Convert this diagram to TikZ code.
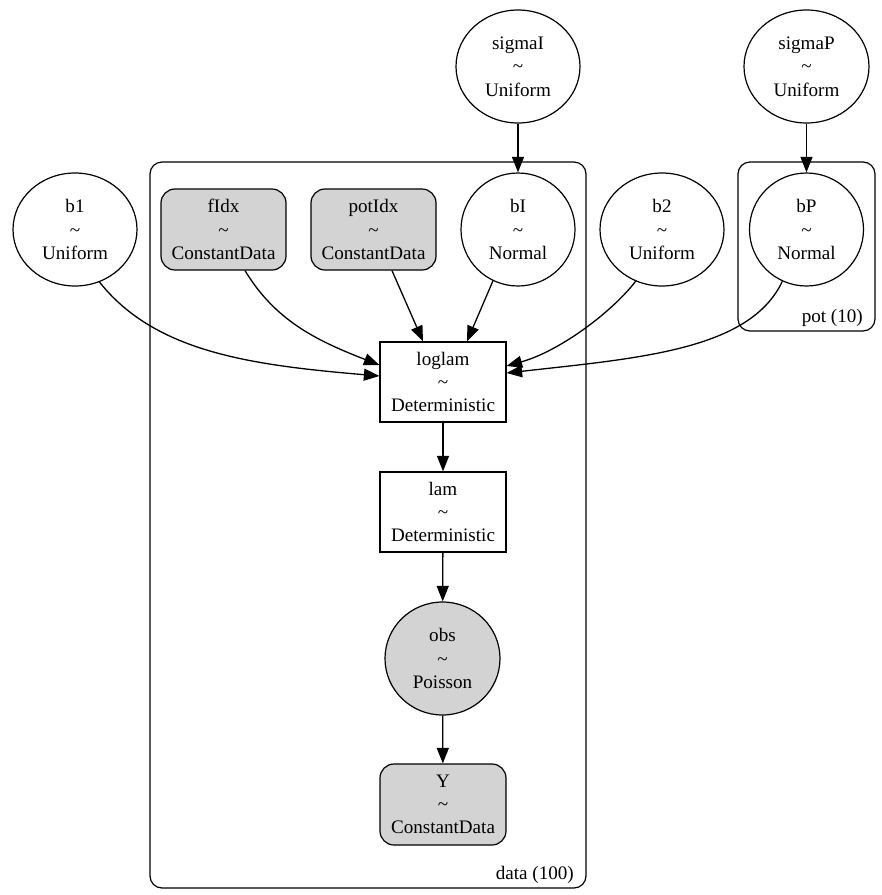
\documentclass[tikz,border=0pt]{standalone}
\usepackage{fontspec}
\setmainfont{Liberation Serif}
\usetikzlibrary{shapes.geometric,arrows.meta}
\definecolor{lightgrey}{HTML}{D3D3D3}
\begin{document}
\begin{tikzpicture}[x=1pt,y=-1pt,
  lbl/.style={font=\fontsize{19.1}{23.3}\selectfont, align=center},
  base/.style={draw, line width=1.2pt, inner sep=0pt, lbl},
  rv/.style={base, ellipse, minimum width=124pt, minimum height=113pt},
  det/.style={base, rectangle, minimum width=126pt, minimum height=80pt},
  cdata/.style={base, rectangle, rounded corners=14pt, fill=lightgrey, minimum width=125pt, minimum height=81pt},
  plate/.style={draw, line width=1.2pt, rounded corners=12pt},
  edge/.style={draw, line width=1.3pt, -{Triangle[length=15.5pt,width=12pt]}}
]
\useasboundingbox[fill=white] (0,0) rectangle (882,895);

% plates
\draw[plate] (150,162) rectangle (586,888);
\draw[plate] (738,162) rectangle (875,331);
\node[lbl, anchor=base east, inner sep=0pt] (datalbl) at (574,879) {data (100)};
\node[lbl, anchor=base east, inner sep=0pt] (potlbl) at (863,322) {pot (10)};

% nodes
\node[rv] (sigmaI) at (518,66.5) {sigmaI\\\textasciitilde\\Uniform};
\node[rv, minimum width=125pt] (sigmaP) at (806.5,66.5) {sigmaP\\\textasciitilde\\Uniform};
\node[rv] (b1) at (75,229.5) {b1\\\textasciitilde\\Uniform};
\node[cdata] (fIdx) at (223.5,229.5) {fIdx\\\textasciitilde\\ConstantData};
\node[cdata] (potIdx) at (373.5,229.5) {potIdx\\\textasciitilde\\ConstantData};
\node[rv, minimum width=114pt] (bI) at (518,229.5) {bI\\\textasciitilde\\Normal};
\node[rv] (b2) at (662,229.5) {b2\\\textasciitilde\\Uniform};
\node[rv, minimum width=114pt] (bP) at (806.5,229.5) {bP\\\textasciitilde\\Normal};
\node[det] (loglam) at (443,382) {loglam\\\textasciitilde\\Deterministic};
\node[det] (lam) at (443,512) {lam\\\textasciitilde\\Deterministic};
\node[rv, fill=lightgrey, minimum width=115pt] (obs) at (442.5,658.5) {obs\\\textasciitilde\\Poisson};
\node[cdata, minimum width=126pt] (Y) at (443,804.5) {Y\\\textasciitilde\\ConstantData};

% edges
\draw[edge] (sigmaI) -- (bI);
\draw[edge] (sigmaP) -- (bP);
\draw[edge] (b1.-65) .. controls (155,352) and (250,365) .. ([yshift=6pt]loglam.west);
\draw[edge] ([xshift=21.5pt]fIdx.south) .. controls (275,320) and (315,340) .. ([yshift=17pt]loglam.west);
\draw[edge] ([xshift=18.5pt]potIdx.south) -- ([xshift=-20pt]loglam.north);
\draw[edge] (bI.-116) -- ([xshift=24pt]loglam.north);
\draw[edge] (b2.-117) .. controls (612,312) and (560,351) .. ([yshift=16pt]loglam.east);
\draw[edge] (bP.-115) .. controls (750,350) and (640,358) .. ([yshift=9pt]loglam.east);
\draw[edge] (loglam) -- (lam);
\draw[edge] (lam) -- (obs);
\draw[edge] (obs) -- (Y);
\end{tikzpicture}
\end{document}
